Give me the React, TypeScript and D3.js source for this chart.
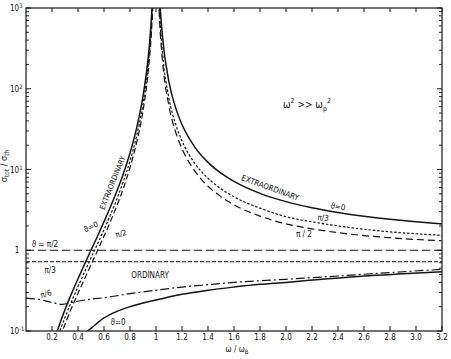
import React from "react";
import * as d3 from "d3";

const W = 451;
const H = 359;
const plot = { left: 26, right: 442, top: 8, bottom: 331 };

// x axis: omega / omega_B
const xTicks = [0.2, 0.4, 0.6, 0.8, 1.0, 1.2, 1.4, 1.6, 1.8, 2.0, 2.2, 2.4, 2.6, 2.8, 3.0, 3.2];
const xTickLabels = ["0.2", "0.4", "0.6", "0.8", "1", "1.2", "1.4", "1.6", "1.8", "2.0", "2.2", "2.4", "2.6", "2.8", "3.0", "3.2"];
const yDecades = [0.1, 1, 10, 100, 1000];
const yTickExp = ["-1", "", "1", "2", "3"];

// extraordinary mode, branch below the resonance
const extLeftW = [0.24, 0.26, 0.28, 0.3, 0.35, 0.4, 0.45, 0.5, 0.55, 0.6, 0.65, 0.7, 0.75, 0.8, 0.85, 0.9, 0.93, 0.95, 0.97, 0.98];
const extLeft0 = [0.0997, 0.123, 0.151, 0.184, 0.29, 0.444, 0.669, 1.0, 1.49, 2.25, 3.45, 5.44, 9.0, 16, 32.1, 81, 176, 361, 1045, 2401];
const extLeftPi3 = [0.08, 0.099, 0.121, 0.147, 0.232, 0.355, 0.535, 0.8, 1.195, 1.8, 2.76, 4.35, 7.2, 12.8, 25.7, 65, 141, 289, 836, 1920];
const extLeftPi2 = [0.066, 0.081, 0.0997, 0.121, 0.191, 0.293, 0.44, 0.66, 0.99, 1.49, 2.28, 3.6, 5.9, 10.6, 21.2, 53, 116, 238, 690, 1585];

// extraordinary mode, branch above the resonance
const extRightW = [1.02, 1.03, 1.05, 1.1, 1.15, 1.2, 1.3, 1.4, 1.5, 1.6, 1.8, 2.0, 2.2, 2.4, 2.6, 2.8, 3.0, 3.2];
const extRight0 = [2601, 1179, 441, 121, 58.8, 36, 18.8, 12.25, 9.0, 7.11, 5.06, 4.0, 3.36, 2.94, 2.64, 2.42, 2.25, 2.12];
const extRightPi3 = [1625, 737, 276, 75.7, 36.8, 22.6, 11.8, 7.8, 5.76, 4.58, 3.32, 2.6, 2.25, 2.0, 1.82, 1.69, 1.6, 1.53];
const extRightPi2 = [1300, 590, 221, 60.6, 29.5, 18.1, 9.5, 6.2, 4.6, 3.65, 2.65, 2.12, 1.84, 1.65, 1.52, 1.43, 1.36, 1.31];

// ordinary mode
const ordFlatW = [0, 3.2];
const ordPi2 = [1.0, 1.0];
const ordPi3 = [0.72, 0.72];
const ordPi6W = [0, 0.1, 0.2, 0.28, 0.36, 0.5, 0.6, 0.8, 1.0, 1.2, 1.4, 1.6, 2.0, 2.4, 2.8, 3.2];
const ordPi6 = [0.256, 0.246, 0.225, 0.214, 0.228, 0.248, 0.258, 0.29, 0.32, 0.35, 0.375, 0.4, 0.437, 0.48, 0.53, 0.58];
const ord0W = [0.46, 0.5, 0.6, 0.7, 0.8, 1.0, 1.2, 1.4, 1.6, 1.8, 2.0, 2.3, 2.6, 2.9, 3.2];
const ord0 = [0.096, 0.108, 0.145, 0.175, 0.2, 0.242, 0.285, 0.32, 0.35, 0.378, 0.4, 0.44, 0.48, 0.51, 0.54];

const FONT = "'DejaVu Sans Condensed', 'Liberation Sans Narrow', sans-serif";
const INK = "#141414";

export default function App() {
  const x = d3.scaleLinear().domain([0, 3.2]).range([plot.left, plot.right]);
  const y = d3.scaleLog().domain([0.1, 1000]).range([plot.bottom, plot.top]);

  const line = d3
    .line<[number, number]>()
    .x((d) => x(d[0]))
    .y((d) => y(d[1]))
    .curve(d3.curveMonotoneX);

  const zip = (ws: number[], vs: number[]) => ws.map((w, i) => [w, vs[i]] as [number, number]);

  const curves = [
    { d: zip(extLeftW, extLeft0), dash: "none", w: 1.5 },
    { d: zip(extLeftW, extLeftPi3), dash: "2.5,1.8", w: 1.2 },
    { d: zip(extLeftW, extLeftPi2), dash: "6,3", w: 1.2 },
    { d: zip(extRightW, extRight0), dash: "none", w: 1.5 },
    { d: zip(extRightW, extRightPi3), dash: "2.5,1.8", w: 1.2 },
    { d: zip(extRightW, extRightPi2), dash: "7,4", w: 1.2 },
    { d: zip(ordFlatW, ordPi2), dash: "8,4", w: 1.2 },
    { d: zip(ordFlatW, ordPi3), dash: "4,2", w: 1.2 },
    { d: zip(ordPi6W, ordPi6), dash: "9,3,2,3", w: 1.2 },
    { d: zip(ord0W, ord0), dash: "none", w: 1.5 },
  ];

  // minor log ticks
  const minor: number[] = [];
  for (let e = -1; e < 3; e++) for (let m = 2; m < 10; m++) minor.push(m * Math.pow(10, e));

  const notes = [
    { t: "EXTRAORDINARY", w: 0.669, v: 6.8, r: -68, s: 7.5 },
    { t: "ϑ=0", w: 0.5, v: 1.94, r: -25, s: 8 },
    { t: "π/2", w: 0.731, v: 1.59, r: -15, s: 8 },
    { t: "ϑ = π/2", w: 0.146, v: 1.19, r: 0, s: 8 },
    { t: "π/3", w: 0.185, v: 0.569, r: 0, s: 8 },
    { t: "ORDINARY", w: 0.954, v: 0.493, r: 0, s: 8 },
    { t: "π/6", w: 0.154, v: 0.287, r: -15, s: 8 },
    { t: "ϑ=0", w: 0.708, v: 0.129, r: 0, s: 8 },
    { t: "EXTRAORDINARY", w: 1.877, v: 5.9, r: 20, s: 8 },
    { t: "ϑ=0", w: 2.4, v: 3.44, r: 8, s: 8 },
    { t: "π/3", w: 2.285, v: 2.51, r: 5, s: 8 },
    { t: "π / 2", w: 2.138, v: 1.55, r: 0, s: 8 },
  ];

  return (
    <svg
      width={W}
      height={H}
      style={{ position: "absolute", left: 0, top: 0, background: "#fff" }}
      fontFamily={FONT}
    >
      <defs>
        <clipPath id="plotClip">
          <rect x={plot.left} y={plot.top} width={plot.right - plot.left} height={plot.bottom - plot.top} />
        </clipPath>
      </defs>

      {/* frame */}
      <rect
        x={plot.left}
        y={plot.top}
        width={plot.right - plot.left}
        height={plot.bottom - plot.top}
        fill="none"
        stroke={INK}
        strokeWidth={1.2}
      />

      {/* x ticks, bottom and top, inward */}
      {xTicks.map((t, i) => (
        <g key={"xt" + i}>
          <line x1={x(t)} x2={x(t)} y1={plot.bottom} y2={plot.bottom - 5} stroke={INK} strokeWidth={1} />
          <line x1={x(t)} x2={x(t)} y1={plot.top} y2={plot.top + 4} stroke={INK} strokeWidth={1} />
          <text x={x(t)} y={plot.bottom + 9} fontSize={8} textAnchor="middle" fill={INK}>
            {xTickLabels[i]}
          </text>
        </g>
      ))}

      {/* y ticks */}
      {minor.map((v, i) => (
        <g key={"ym" + i}>
          <line x1={plot.left} x2={plot.left + 3} y1={y(v)} y2={y(v)} stroke={INK} strokeWidth={0.9} />
          <line x1={plot.right} x2={plot.right - 3} y1={y(v)} y2={y(v)} stroke={INK} strokeWidth={0.9} />
        </g>
      ))}
      {yDecades.map((v, i) => (
        <g key={"yd" + i}>
          <line x1={plot.left} x2={plot.left + 5} y1={y(v)} y2={y(v)} stroke={INK} strokeWidth={1} />
          <line x1={plot.right} x2={plot.right - 5} y1={y(v)} y2={y(v)} stroke={INK} strokeWidth={1} />
          {yTickExp[i] === "" ? (
            <text x={17} y={y(v) + 3} fontSize={8} textAnchor="middle" fill={INK}>
              1
            </text>
          ) : (
            <text x={10} y={y(v) + 3} fontSize={8} fill={INK}>
              10
              <tspan fontSize={6} dy={-3}>
                {yTickExp[i]}
              </tspan>
            </text>
          )}
        </g>
      ))}

      {/* curves */}
      <g clipPath="url(#plotClip)" fill="none" stroke={INK}>
        {curves.map((c, i) => (
          <path key={"c" + i} d={line(c.d) || ""} strokeDasharray={c.dash} strokeWidth={c.w} />
        ))}
      </g>

      {/* curve annotations */}
      {notes.map((n, i) => (
        <text
          key={"n" + i}
          transform={`translate(${x(n.w)},${y(n.v)}) rotate(${n.r})`}
          fontSize={n.s}
          textAnchor="middle"
          dominantBaseline="middle"
          fill={INK}
        >
          {n.t}
        </text>
      ))}

      {/* regime note */}
      <text x={x(1.977)} y={y(57.8)} fontSize={10} fill={INK}>
        ω
        <tspan fontSize={7} dy={-5}>2</tspan>
        <tspan dy={5}> {">>"} ω</tspan>
        <tspan fontSize={7} dy={3}>p</tspan>
        <tspan fontSize={7} dy={-8}>2</tspan>
      </text>

      {/* axis titles */}
      <text x={(plot.left + plot.right) / 2 + 3} y={352} fontSize={8} textAnchor="middle" fill={INK}>
        ω / ω
        <tspan fontSize={6} dy={2}>B</tspan>
      </text>
      <text transform="translate(7,166) rotate(-90)" fontSize={9} textAnchor="middle" fill={INK}>
        σ
        <tspan fontSize={6.5} dy={2}>tot</tspan>
        <tspan dy={-2}> / σ</tspan>
        <tspan fontSize={6.5} dy={2}>th</tspan>
      </text>
    </svg>
  );
}
